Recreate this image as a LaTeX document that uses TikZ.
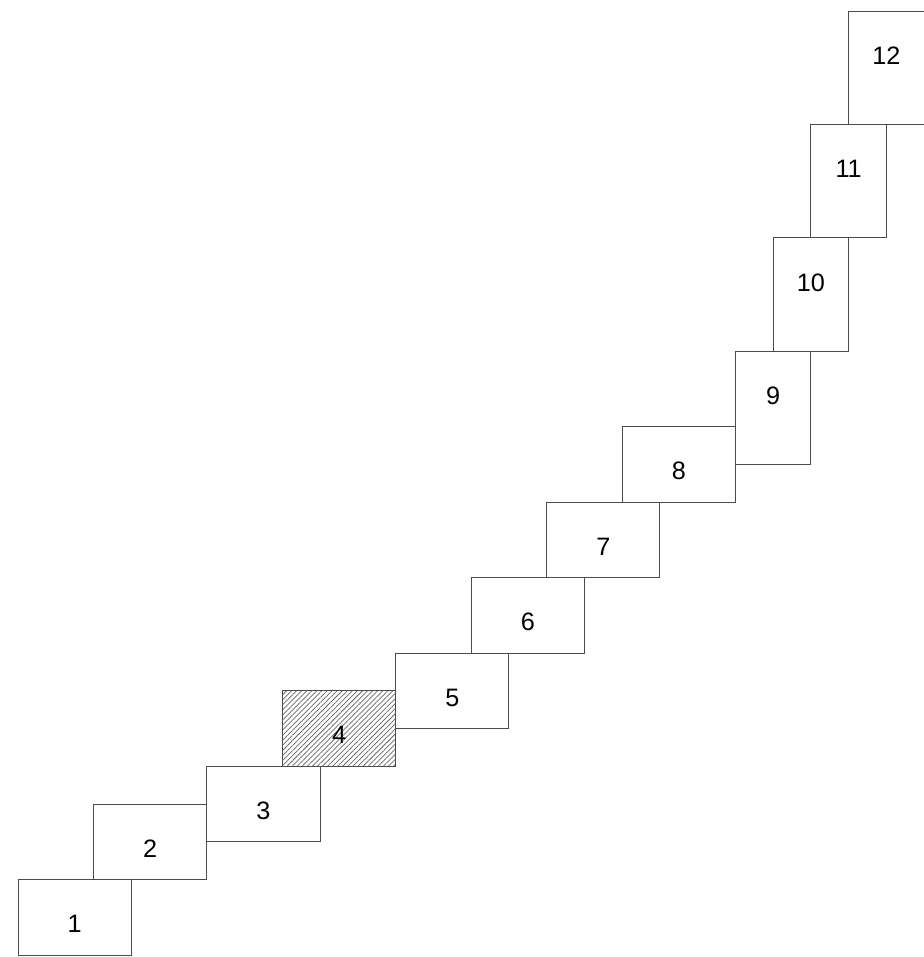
\documentclass[tikz,border=0pt]{standalone}
\usepackage{fontspec}
\setmainfont{Liberation Sans}
\usepackage{tikz}
\usetikzlibrary{patterns.meta}
\definecolor{edgecolor}{rgb}{0.3,0.3,0.3}
\tikzset{
  stair/.style={draw=edgecolor, line width=0.7pt, anchor=south west, inner sep=0pt, outer sep=0pt, font=\fontsize{19pt}{21pt}\selectfont},
  wide/.style={stair, minimum width=3cm, minimum height=2cm, text height=23pt, text depth=0pt},
  tall/.style={stair, minimum width=2cm, minimum height=3cm, text height=0pt, text depth=5pt},
  marked/.style={pattern={Lines[angle=45, distance=2.7pt, line width=0.55pt]}, pattern color=black!60},
}
\begin{document}
\begin{tikzpicture}
\useasboundingbox (-0.48,-0.05) rectangle (23.97,25.30);
\node[wide] (s1)  at (0,0)   {1};
\node[wide] (s2)  at (2,2)   {2};
\node[wide] (s3)  at (5,3)   {3};
\node[wide,marked] (s4) at (7,5) {4};
\node[wide] (s5)  at (10,6)  {5};
\node[wide] (s6)  at (12,8)  {6};
\node[wide] (s7)  at (14,10) {7};
\node[wide] (s8)  at (16,12) {8};
\node[tall] (s9)  at (19,13) {9};
\node[tall] (s10) at (20,16) {10};
\node[tall] (s11) at (21,19) {11};
\node[tall] (s12) at (22,22) {12};
\end{tikzpicture}
\end{document}
